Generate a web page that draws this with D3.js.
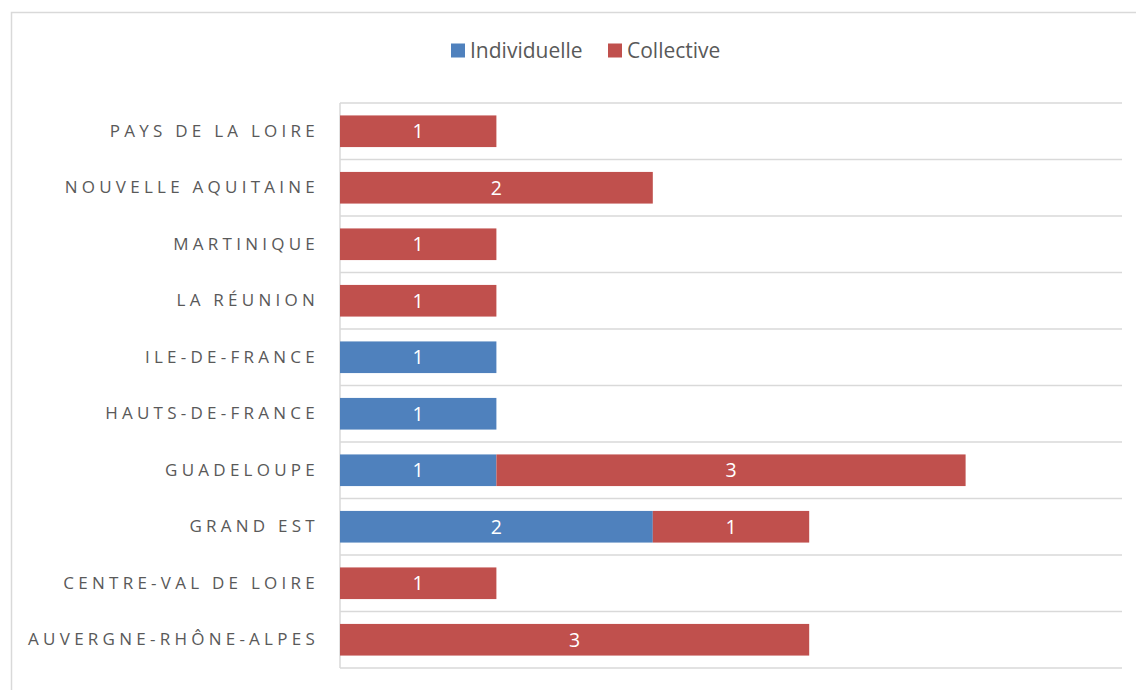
<!DOCTYPE html>
<html>
<head>
<meta charset="utf-8">
<script src="https://cdn.jsdelivr.net/npm/d3@7"></script>
<style>
  body { margin: 0; background: #fff; }
  svg { display: block; font-family: "Open Sans", "Noto Sans", sans-serif; }
</style>
</head>
<body>
<svg id="chart" width="1136" height="690"></svg>
<script>
// regions, bottom to top as in the source chart
let regions = ["AUVERGNE-RHÔNE-ALPES", "CENTRE-VAL DE LOIRE", "GRAND EST", "GUADELOUPE",
  "HAUTS-DE-FRANCE", "ILE-DE-FRANCE", "LA RÉUNION", "MARTINIQUE",
  "NOUVELLE AQUITAINE", "PAYS DE LA LOIRE"];
let individuelle = [0, 0, 2, 1, 1, 1, 0, 0, 0, 0];
let collective   = [3, 1, 1, 3, 0, 0, 1, 1, 2, 1];
let seriesNames = ["Individuelle", "Collective"];
let colors = ["#4F81BD", "#C0504D"];

let svg = d3.select("#chart");
// "top" is a window global, so use other names
let plotLeft = 340, plotRight = 1122, plotTop = 103, plotBottom = 668;

// outer frame of the chart (right/bottom fall outside the picture)
svg.append("rect")
  .attr("x", 11.5).attr("y", 12.5)
  .attr("width", 1140).attr("height", 700)
  .attr("fill", "none").attr("stroke", "#D9D9D9").attr("stroke-width", 1.5);

let x = d3.scaleLinear().domain([0, 5]).range([plotLeft, plotRight]);
// top of chart is last region
let y = d3.scaleBand().domain(regions.slice().reverse()).range([plotTop, plotBottom]).paddingInner(0.44).paddingOuter(0.22);

// horizontal separators between categories
let seps = d3.range(regions.length + 1).map(i => plotTop + i * (plotBottom - plotTop) / regions.length);
svg.append("g").selectAll("line")
  .data(seps)
  .enter()
  .append("line")
  .attr("x1", plotLeft).attr("x2", plotRight)
  .attr("y1", d => d).attr("y2", d => d)
  .attr("stroke", "#D9D9D9").attr("stroke-width", 1.5);

// vertical axis line
svg.append("line")
  .attr("x1", plotLeft).attr("x2", plotLeft)
  .attr("y1", plotTop).attr("y2", plotBottom)
  .attr("stroke", "#D9D9D9").attr("stroke-width", 1.5);

let rows = regions.map((r, i) => ({ region: r, Individuelle: individuelle[i], Collective: collective[i] }));
let stacked = d3.stack().keys(seriesNames)(rows);

let layers = svg.append("g").selectAll("g")
  .data(stacked)
  .enter()
  .append("g")
  .attr("fill", (d, i) => colors[i]);

layers.selectAll("rect")
  .data(d => d.filter(p => p[1] - p[0] > 0))
  .enter()
  .append("rect")
  .attr("x", d => x(d[0]))
  .attr("width", d => x(d[1]) - x(d[0]))
  .attr("y", d => y(d.data.region))
  .attr("height", y.bandwidth());

layers.selectAll("text")
  .data(d => d.filter(p => p[1] - p[0] > 0))
  .enter()
  .append("text")
  .attr("x", d => (x(d[0]) + x(d[1])) / 2)
  .attr("y", d => y(d.data.region) + y.bandwidth() / 2)
  .attr("dy", "0.36em")
  .attr("text-anchor", "middle")
  .attr("fill", "#fff")
  .attr("font-size", 19.5)
  .text(d => d[1] - d[0]);

// category labels (letter-spacing also pads after the last letter)
let yAxis = d3.axisLeft(y).tickSize(0).tickPadding(21);
let ga = svg.append("g").attr("transform", "translate(" + plotLeft + ",0)").call(yAxis);
ga.select(".domain").remove();
ga.selectAll("text")
  .attr("font-family", "'Open Sans', sans-serif")
  .attr("font-size", 17)
  .attr("fill", "#595959")
  .style("letter-spacing", "4.25px");

// legend
let legendX = [451, 608];
let lg = svg.append("g").selectAll("g")
  .data(seriesNames)
  .enter()
  .append("g")
  .attr("transform", (d, i) => "translate(" + legendX[i] + ",43.5)");
lg.append("rect").attr("width", 14).attr("height", 14).attr("fill", (d, i) => colors[i]);
lg.append("text")
  .attr("x", 19).attr("y", 7).attr("dy", "0.36em")
  .attr("font-size", 21).attr("fill", "#595959")
  .text(d => d);
</script>
</body>
</html>
